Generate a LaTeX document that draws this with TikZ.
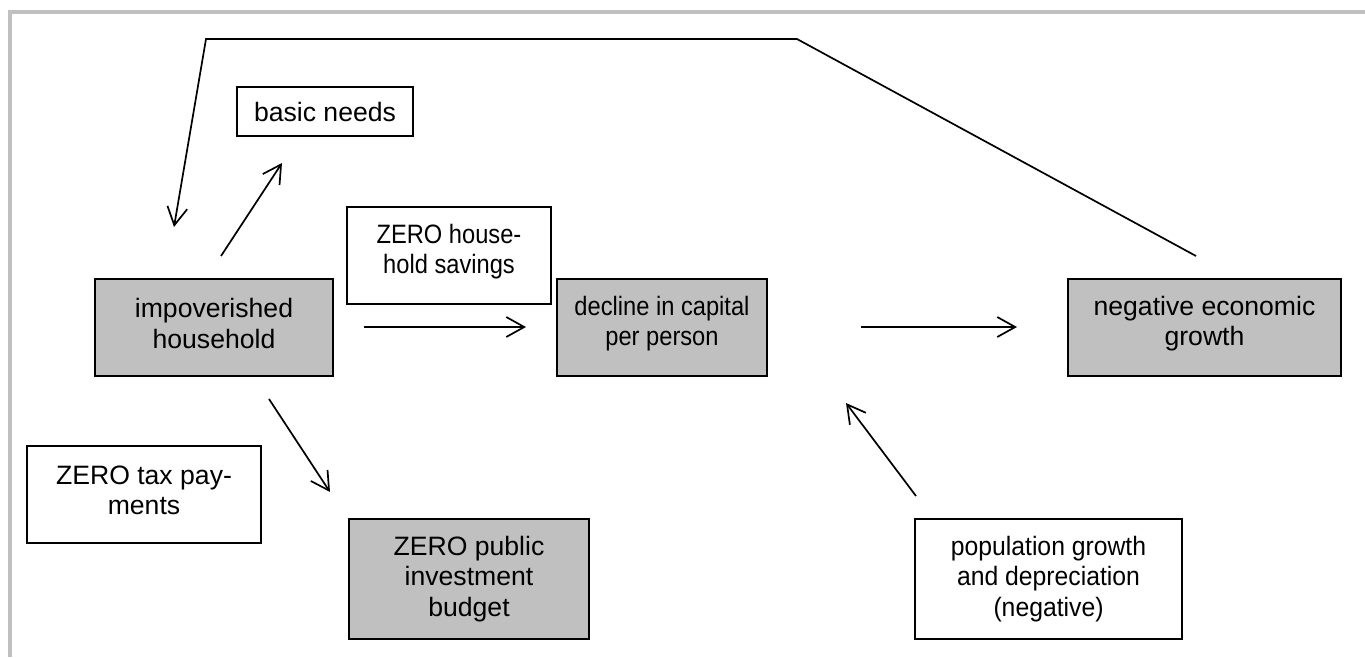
\documentclass[tikz,border=0pt]{standalone}
\usepackage{fontspec}
\setmainfont{Liberation Sans}
\usetikzlibrary{arrows.meta}
\definecolor{boxgray}{RGB}{192,192,192}
% one line of box text, narrowed horizontally by #1
\newcommand{\narrowline}[2]{\scalebox{#1}[1]{#2}}
\begin{document}
\begin{tikzpicture}[x=1pt,y=-1pt,
  every node/.style={font=\fontsize{26.6}{30.6}\selectfont, align=center, inner sep=0pt},
  plainbox/.style={draw=black, line width=1.8pt, fill=white},
  greybox/.style={draw=black, line width=1.8pt, fill=boxgray},
  boxtext/.style={label={[yshift=4pt]center:#1}},
  flow/.style={line width=1.7pt, -{Straight Barb[length=18pt,width=20pt,line width=1.7pt]}},
  frameline/.style={draw=boxgray, line width=4pt}
]
\useasboundingbox (0,0) rectangle (1365,657);
% page frame, top and left edges only
\draw[frameline] (10,657) -- (10,12) -- (1365,12);

% boxes
\node[plainbox, minimum width=176pt, minimum height=49pt] (needs) at (325,111.5) {basic needs};
\node[greybox, minimum width=238pt, minimum height=97pt,
  boxtext={impoverished\\household}] (house) at (214,327.5) {};
\node[plainbox, minimum width=204pt, minimum height=97pt,
  boxtext={\narrowline{0.89}{ZERO house-}\\\narrowline{0.89}{hold savings}}] (sav) at (449,255.5) {};
\node[greybox, minimum width=210pt, minimum height=97pt,
  boxtext={\narrowline{0.89}{decline in capital}\\\narrowline{0.89}{per person}}] (decl) at (662,327.5) {};
\node[greybox, minimum width=273pt, minimum height=97pt,
  boxtext={negative economic\\growth}] (neg) at (1204.5,327.5) {};
\node[plainbox, minimum width=234pt, minimum height=97pt,
  boxtext={ZERO tax pay-\\ments}] (tax) at (144,494.5) {};
\node[greybox, minimum width=240pt, minimum height=120pt] (pub) at (469,579) {ZERO public\\investment\\budget};
\node[plainbox, minimum width=267pt, minimum height=120pt] (pop) at (1048.5,579)
  {\narrowline{0.93}{population growth}\\\narrowline{0.93}{and depreciation}\\\narrowline{0.93}{(negative)}};

% connector end points
\coordinate (hN) at (221,256);
\coordinate (nT) at (282,163);
\coordinate (hS) at (269,399);
\coordinate (pT) at (330,492);
\coordinate (hE) at (364,327);
\coordinate (dW) at (526,327);
\coordinate (dE) at (861,327);
\coordinate (gW) at (1017,327);
\coordinate (pN) at (916,496);
\coordinate (dS) at (846,403);
\coordinate (gN) at (1196,256);
\coordinate (topR) at (797,39);
\coordinate (topL) at (206,39);
\coordinate (hT) at (174,227);

% connectors
\draw[flow] (hN) -- (nT);
\draw[flow] (hS) -- (pT);
\draw[flow] (hE) -- (dW);
\draw[flow] (dE) -- (gW);
\draw[flow] (pN) -- (dS);
\draw[flow, line join=miter] (gN) -- (topR) -- (topL) -- (hT);
\end{tikzpicture}
\end{document}
